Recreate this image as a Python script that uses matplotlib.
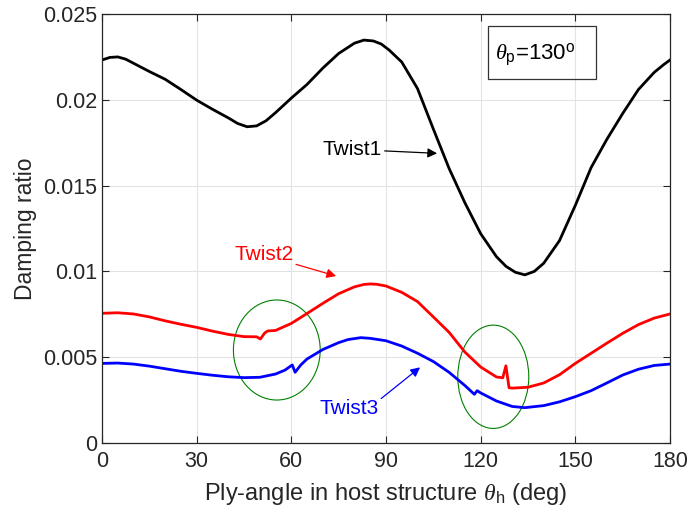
import matplotlib
matplotlib.use("Agg")
import matplotlib.pyplot as plt
from matplotlib.patches import Ellipse, Rectangle

plt.rcParams['font.family'] = ['Liberation Sans', 'DejaVu Sans']
plt.rcParams['mathtext.fontset'] = 'custom'
plt.rcParams['mathtext.rm'] = 'Liberation Sans'
plt.rcParams['mathtext.it'] = 'Liberation Serif:italic'

# Damping ratio of the twisting modes versus host ply angle (theta_p = 130 deg)
angle_t1 = [0, 2.5, 5, 7.5, 10, 15, 20, 25, 30, 35, 40, 43, 46, 49, 52, 55, 60, 65,
            70, 75, 80, 83, 86, 88.5, 91, 95, 100, 105, 110, 115, 120, 125, 128,
            131, 134, 137, 140, 145, 150, 155, 160, 165, 170, 175, 178, 180]
twist1 = [0.02232, 0.02247, 0.02250, 0.02237, 0.02213, 0.02165, 0.02120, 0.02060,
          0.01998, 0.01945, 0.01895, 0.01862, 0.01843, 0.01848, 0.01878, 0.01925,
          0.02010, 0.02090, 0.02185, 0.02270, 0.02330, 0.02348, 0.02343, 0.02325,
          0.02290, 0.02220, 0.02065, 0.01830, 0.01600, 0.01400, 0.01220, 0.01086,
          0.01030, 0.00995, 0.00980, 0.01000, 0.01048, 0.01180, 0.01385, 0.01605,
          0.01770, 0.01920, 0.02060, 0.02160, 0.02205, 0.02232]

angle_t2 = [0, 5, 10, 15, 20, 25, 30, 35, 40, 45, 49, 50.2, 51.5, 52.5, 55, 60, 65,
            70, 75, 80, 83, 85, 87, 90, 95, 100, 105, 110, 115, 120, 125, 127, 128,
            129, 130, 135, 140, 145, 150, 155, 160, 165, 170, 175, 180]
twist2 = [0.00756, 0.00759, 0.00752, 0.00735, 0.00712, 0.00692, 0.00674, 0.00652,
          0.00633, 0.00620, 0.00619, 0.00606, 0.00640, 0.00653, 0.00656, 0.00697,
          0.00755, 0.00814, 0.00870, 0.00910, 0.00924, 0.00927, 0.00925, 0.00915,
          0.00878, 0.00824, 0.00735, 0.00645, 0.00530, 0.00443, 0.00385, 0.00380,
          0.00450, 0.00322, 0.00320, 0.00325, 0.00350, 0.00398, 0.00464, 0.00523,
          0.00582, 0.00639, 0.00690, 0.00728, 0.00752]

angle_t3 = [0, 5, 10, 15, 20, 25, 30, 35, 40, 45, 50, 55, 58, 60.3, 61.2, 63, 65,
            70, 75, 78, 82, 85, 90, 95, 100, 105, 110, 115, 118, 118.9, 120, 125,
            130, 134, 140, 145, 150, 155, 160, 165, 170, 175, 180]
twist3 = [0.00464, 0.00466, 0.00460, 0.00448, 0.00433, 0.00418, 0.00406, 0.00395,
          0.00386, 0.00381, 0.00383, 0.00402, 0.00425, 0.00455, 0.00412, 0.00455,
          0.00490, 0.00545, 0.00585, 0.00603, 0.00614, 0.00610, 0.00596, 0.00565,
          0.00523, 0.00475, 0.00412, 0.00335, 0.00284, 0.00305, 0.00292, 0.00245,
          0.00213, 0.00206, 0.00218, 0.00240, 0.00270, 0.00305, 0.00350, 0.00396,
          0.00430, 0.00452, 0.00460]

x_ticks = [0, 30, 60, 90, 120, 150, 180]
y_ticks = [0, 0.005, 0.01, 0.015, 0.02, 0.025]
y_ticklabels = ['0', '0.005', '0.01', '0.015', '0.02', '0.025']

fig = plt.figure(figsize=(6.91, 5.19), dpi=100)
ax = fig.add_axes([0.1476, 0.1464, 0.822, 0.8266])

ax.plot(angle_t1, twist1, color='black', lw=2, solid_joinstyle='round')
ax.plot(angle_t2, twist2, color='#ff0000', lw=2, solid_joinstyle='round')
ax.plot(angle_t3, twist3, color='#0000ff', lw=2, solid_joinstyle='round')

# regions where the mode curves show small jumps
ax.add_patch(Ellipse((55.4, 0.00542), 27.5, 0.00583, fill=False,
                     edgecolor='#008000', lw=0.8))
ax.add_patch(Ellipse((124.0, 0.00386), 22.5, 0.00602, fill=False,
                     edgecolor='#008000', lw=0.8))

ax.annotate('Twist1', xy=(106.2, 0.01688), xytext=(88.7, 0.01711),
            ha='right', va='center', fontsize=15, color='black',
            arrowprops=dict(arrowstyle='-|>', color='black', lw=0.9,
                            shrinkA=0, shrinkB=0, mutation_scale=14))
ax.annotate('Twist2', xy=(74.2, 0.00973), xytext=(60.6, 0.01096),
            ha='right', va='center', fontsize=15, color='#ff0000',
            arrowprops=dict(arrowstyle='-|>', color='#ff0000', lw=0.9,
                            shrinkA=0, shrinkB=0, mutation_scale=14))
ax.annotate('Twist3', xy=(100.8, 0.00441), xytext=(87.6, 0.00202),
            ha='right', va='center', fontsize=15, color='#0000ff',
            arrowprops=dict(arrowstyle='-|>', color='#0000ff', lw=0.9,
                            shrinkA=0, shrinkB=0, mutation_scale=14,
                            relpos=(1.0, 0.9)))

ax.add_patch(Rectangle((0.680, 0.849), 0.190, 0.123, transform=ax.transAxes,
                       fill=False, edgecolor='#333333', lw=0.9))
ax.text(0.692, 0.905, r'$\theta_{\rm p}$=130$^{\rm o}$', transform=ax.transAxes,
        ha='left', va='center', fontsize=16)

ax.set_xlim(0, 180)
ax.set_ylim(0, 0.025)
ax.set_xticks(x_ticks)
ax.set_xticklabels([str(v) for v in x_ticks])
ax.set_yticks(y_ticks)
ax.set_yticklabels(y_ticklabels)
ax.tick_params(direction='in', length=5, width=0.8, labelsize=15.5,
               top=True, right=True, colors='#262626')
ax.tick_params(axis='x', pad=6)
ax.grid(True, color='#e3e3e3', lw=0.8)
ax.set_axisbelow(True)
for s in ax.spines.values():
    s.set_color('#262626')
    s.set_linewidth(0.9)

ax.set_xlabel(r'Ply-angle in host structure $\theta_{\rm h}$ (deg)', fontsize=17,
              color='#262626', labelpad=6)
ax.set_ylabel('Damping ratio', fontsize=16.5, color='#262626', labelpad=4)

fig.savefig('out.png', dpi=100)
